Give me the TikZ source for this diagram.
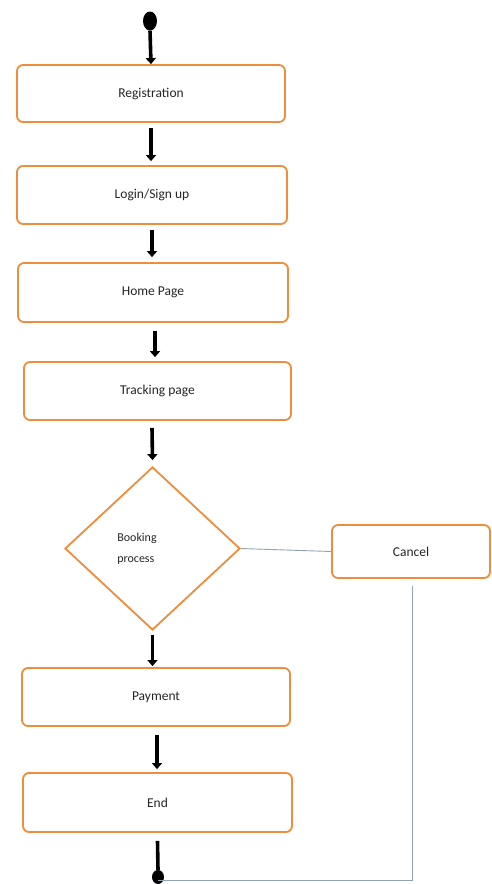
\documentclass[tikz,border=0pt]{standalone}
\usepackage{fontspec}
\setmainfont{Carlito}
\usetikzlibrary{arrows.meta,shapes.geometric,calc}
\definecolor{boxorange}{HTML}{EE8E3C}
\definecolor{linegray}{HTML}{8FA3B5}
\begin{document}
\begin{tikzpicture}[x=1pt,y=-1pt,
  box/.style={draw=boxorange,line width=1.8pt,rounded corners=6pt,fill=white,
    minimum width=#1,minimum height=58pt,inner sep=0pt,font=\fontsize{13.5}{15}\selectfont,text=black!85},
  box/.default=268pt,
  dia/.style={draw=boxorange,line width=1.8pt,diamond,fill=white,inner sep=0pt,
    minimum width=175pt,minimum height=163pt},
  flow/.style={line width=3.6pt,-{Triangle[width=10pt,length=6pt]}},
  thinline/.style={draw=linegray,line width=0.9pt},
  dot/.style={fill=black,ellipse,inner sep=0pt}]
\useasboundingbox[fill=white] (0,0) rectangle (491,884);
\node[dot,minimum width=14pt,minimum height=19pt] (start) at (150,21) {};
\node[box=268pt,minimum height=57pt] (reg) at (151,93.5) {Registration};
\node[box=270pt] (login) at (152,195) {Login/Sign up};
\node[box=270pt,minimum height=59pt] (home) at (153,292.5) {Home Page};
\node[box=267pt] (track) at (157.5,391) {Tracking page};
\node[dia] (book) at (152.5,548.5) {};
\node[align=left,inner sep=0pt,font=\fontsize{12}{21}\selectfont,text=black!85] (booktext) at (137,549) {Booking\\process};
\node[box=158pt,minimum height=53pt] (cancel) at (411,551.5) {Cancel};
\node[box=268pt] (pay) at (156,697) {Payment};
\node[box=269pt,minimum height=59pt] (end) at (157.5,802.5) {End};
\node[dot,minimum width=12pt,minimum height=14pt] (enddot) at (158,877) {};

\draw[flow] (start.south) -- (reg.north);
\draw[flow] ([yshift=-5pt]reg.south) -- ([yshift=4pt]reg.south |- login.north);
\draw[flow] ([yshift=-5pt]login.south) -- ([yshift=5pt]login.south |- home.north);
\draw[flow] ([yshift=-8pt,xshift=2pt]home.south) -- ([yshift=4pt,xshift=2pt]home.south |- track.north);
\draw[flow] ([yshift=-7pt,xshift=-5.5pt]track.south) -- ([yshift=6pt]book.north);
\draw[flow] ([yshift=-4pt]book.south) -- ([yshift=1pt]book.south |- pay.north);
\draw[flow] ([yshift=-8pt,xshift=1pt]pay.south) -- ([yshift=3pt,xshift=1pt]pay.south |- end.north);
\draw[line width=3.6pt] ([yshift=-8pt]end.south) -- (enddot.north);
\draw[thinline] (book.east) -- (cancel.west);
\draw[thinline] ([yshift=-7pt,xshift=1pt]cancel.south) |- ([yshift=-3pt]enddot.center);
\end{tikzpicture}
\end{document}
